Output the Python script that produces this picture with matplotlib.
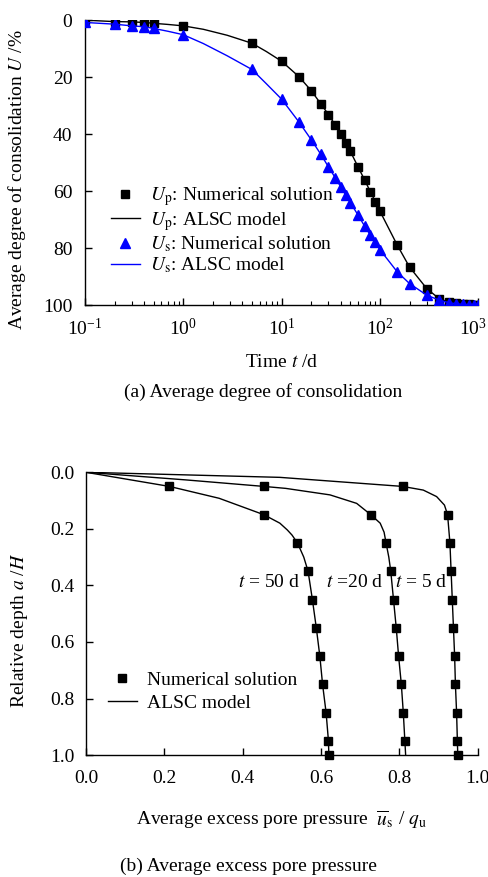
import numpy as np
import matplotlib
matplotlib.use("Agg")
import matplotlib.pyplot as plt
import matplotlib.transforms as mtransforms
from matplotlib.ticker import LogLocator, FixedLocator, NullFormatter, FuncFormatter

plt.rcParams["font.family"] = ["Liberation Serif", "DejaVu Serif"]
plt.rcParams["mathtext.fontset"] = "stix"
plt.rcParams["font.size"] = 14

# (a) average degree of consolidation
time_d = [0.1, 0.2, 0.3, 0.4, 0.5, 1, 5, 10, 15, 20, 25, 30, 35, 40, 45, 50,
          60, 70, 80, 90, 100, 150, 200, 300, 400, 500, 600, 700, 800, 900, 1000]
up_num = [0.0, 0.5, 0.6, 0.8, 1.1, 2.0, 8.1, 14.4, 19.8, 24.7, 29.3, 33.1, 36.7,
          39.9, 43.0, 46.0, 51.5, 56.1, 60.2, 63.7, 67.0, 78.9, 86.6, 94.2, 97.7,
          98.9, 99.4, 99.6, 99.7, 99.8, 99.9]
us_num = [0.8, 1.4, 2.0, 2.3, 2.9, 5.1, 17.3, 27.7, 35.7, 41.9, 47.0, 51.5, 55.2,
          58.5, 61.4, 64.0, 68.4, 72.3, 75.4, 78.0, 80.5, 88.3, 92.4, 96.5, 98.2,
          99.1, 99.5, 99.7, 99.8, 99.9, 99.9]

# ALSC model curves (denser where the curves bend)
time_model = [0.1, 0.2, 0.3, 0.4, 0.5, 0.7, 1, 1.6, 2.8, 5, 7, 10, 15, 20, 25, 30,
              35, 40, 45, 50, 60, 70, 80, 90, 100, 150, 200, 300, 400, 500, 600,
              700, 800, 900, 1000]
up_model = [0.0, 0.5, 0.6, 0.8, 1.1, 1.5, 2.0, 3.2, 5.3, 8.1, 11.0, 14.4, 19.8,
            24.7, 29.3, 33.1, 36.7, 39.9, 43.0, 46.0, 51.5, 56.1, 60.2, 63.7, 67.0,
            78.9, 86.6, 94.2, 97.7, 98.9, 99.4, 99.6, 99.7, 99.8, 99.9]
us_model = [0.8, 1.4, 2.0, 2.3, 2.9, 3.9, 5.1, 8.2, 12.5, 17.3, 22.3, 27.7, 35.7,
            41.9, 47.0, 51.5, 55.2, 58.5, 61.4, 64.0, 68.4, 72.3, 75.4, 78.0, 80.5,
            88.3, 92.4, 96.5, 98.2, 99.1, 99.5, 99.7, 99.8, 99.9, 99.9]
time_ticks = [0.1, 1, 10, 100, 1000]

# (b) average excess pore pressure profiles
depth_num = [0.05, 0.15, 0.25, 0.35, 0.45, 0.55, 0.65, 0.75, 0.85, 0.95, 1.0]
p50_num = [0.213, 0.454, 0.540, 0.567, 0.578, 0.588, 0.597, 0.604, 0.613, 0.619, 0.620]
p20_num = [0.454, 0.727, 0.766, 0.778, 0.785, 0.792, 0.798, 0.805, 0.810, 0.814]
p5_num = [0.808, 0.923, 0.929, 0.932, 0.935, 0.938, 0.941, 0.943, 0.946, 0.948, 0.949]

depth_50_model = [0.0, 0.024, 0.05, 0.092, 0.15, 0.18, 0.204, 0.222, 0.25, 0.3,
                  0.35, 0.45, 0.55, 0.65, 0.75, 0.85, 0.95, 1.0]
p50_model = [0.0, 0.102, 0.213, 0.34, 0.454, 0.495, 0.514, 0.526, 0.540, 0.556,
             0.567, 0.578, 0.588, 0.597, 0.604, 0.613, 0.619, 0.620]
depth_20_model = [0.0, 0.027, 0.05, 0.057, 0.08, 0.11, 0.15, 0.18, 0.212, 0.25,
                  0.3, 0.35, 0.45, 0.55, 0.65, 0.75, 0.85, 0.95, 1.0]
p20_model = [0.0, 0.255, 0.454, 0.51, 0.623, 0.691, 0.727, 0.751, 0.761, 0.766,
             0.773, 0.778, 0.785, 0.792, 0.798, 0.805, 0.810, 0.814, 0.816]
depth_5_model = [0.0, 0.018, 0.05, 0.063, 0.086, 0.116, 0.15, 0.25, 0.35, 0.45,
                 0.55, 0.65, 0.75, 0.85, 0.95, 1.0]
p5_model = [0.0, 0.495, 0.808, 0.861, 0.895, 0.915, 0.923, 0.929, 0.932, 0.935,
            0.938, 0.941, 0.943, 0.946, 0.948, 0.949]
depth_ticks = [0.0, 0.2, 0.4, 0.6, 0.8, 1.0]

curve_labels = [r"$t$ = 50 d", r"$t$ =20 d", r"$t$ = 5 d"]
curve_label_x = [0.467, 0.685, 0.856]
curve_label_y = 0.39


def style_axes(ax, xpad, ypad):
    for side in ["top", "right"]:
        ax.spines[side].set_visible(False)
    for side in ["left", "bottom"]:
        ax.spines[side].set_linewidth(1.0)
    ax.tick_params(which="major", direction="in", length=5, width=1.0, labelsize=14)
    ax.tick_params(which="minor", direction="in", length=3, width=0.8)
    ax.tick_params(axis="x", which="major", pad=xpad)
    ax.tick_params(axis="y", which="major", pad=ypad)


fig = plt.figure(figsize=(4.88, 8.77), dpi=100)

# ---- (a) ----
ax1 = fig.add_axes([0.174, 0.652, 0.806, 0.325])
ax1.plot(time_d, up_num, "s", color="black", ms=6, label=r"$U_{\mathrm{p}}$: Numerical solution")
ax1.plot(time_model, up_model, "-", color="black", lw=1.0, label=r"$U_{\mathrm{p}}$: ALSC model")
ax1.plot(time_d, us_num, "^", color="blue", ms=6.5, label=r"$U_{\mathrm{s}}$: Numerical solution")
ax1.plot(time_model, us_model, "-", color="blue", lw=1.0, label=r"$U_{\mathrm{s}}$: ALSC model")
ax1.set_xscale("log")
ax1.set_xlim(0.1, 1000)
ax1.set_ylim(100, 0)
ax1.set_yticks([0, 20, 40, 60, 80, 100])
ax1.xaxis.set_major_locator(FixedLocator(time_ticks))
ax1.xaxis.set_major_formatter(
    FuncFormatter(lambda v, p: r"$\mathregular{10^{%d}}$" % round(np.log10(v))))
ax1.xaxis.set_minor_locator(LogLocator(base=10, subs=np.arange(2, 10), numticks=20))
ax1.xaxis.set_minor_formatter(NullFormatter())
style_axes(ax1, xpad=9, ypad=9)
ax1.set_xlabel(r"Time $t$ /d", labelpad=11)
ax1.set_ylabel(r"Average degree of consolidation $U$ /%")
ax1.yaxis.set_label_coords(-0.145, 0.44)
for sp in ax1.spines.values():
    sp.set_zorder(0)
# nudge the last time label left so it stays inside the figure
last_tick = ax1.xaxis.get_major_ticks(len(time_ticks))[-1]
last_tick.label1.set_transform(
    last_tick.label1.get_transform()
    + mtransforms.ScaledTranslation(-5 / 100, 0, fig.dpi_scale_trans))
ax1.legend(loc="upper left", bbox_to_anchor=(0.066, 0.42), frameon=False,
           borderpad=0, borderaxespad=0, handlelength=1.5, handletextpad=0.5,
           labelspacing=0.08, fontsize=14)
fig.text(0.54, 1 - 392 / 877, "(a) Average degree of consolidation",
         ha="center", va="center", fontsize=14)

# ---- (b) ----
ax2 = fig.add_axes([0.176, 0.139, 0.803, 0.3225])
ax2.plot(p50_model, depth_50_model, "-", color="black", lw=1.0, label="ALSC model")
ax2.plot(p20_model, depth_20_model, "-", color="black", lw=1.0)
ax2.plot(p5_model, depth_5_model, "-", color="black", lw=1.0)
ax2.plot(p50_num, depth_num, "s", color="black", ms=6, clip_on=False, label="Numerical solution")
ax2.plot(p20_num, depth_num[:len(p20_num)], "s", color="black", ms=6, clip_on=False)
ax2.plot(p5_num, depth_num, "s", color="black", ms=6, clip_on=False)
ax2.set_xlim(0, 1.0)
ax2.set_ylim(1.0, 0)
ax2.xaxis.set_major_locator(FixedLocator(depth_ticks))
ax2.yaxis.set_major_locator(FixedLocator(depth_ticks))
ax2.xaxis.set_major_formatter(FuncFormatter(lambda v, p: f"{v:.1f}"))
ax2.yaxis.set_major_formatter(FuncFormatter(lambda v, p: f"{v:.1f}"))
style_axes(ax2, xpad=11, ypad=8)
for label, xv in zip(curve_labels, curve_label_x):
    ax2.text(xv, curve_label_y, label, ha="center", va="center", fontsize=14)
handles, labels = ax2.get_legend_handles_labels()
ax2.legend([handles[1], handles[0]], [labels[1], labels[0]], loc="upper left",
           bbox_to_anchor=(0.056, 0.295), frameon=False, borderpad=0, borderaxespad=0,
           handlelength=1.5, handletextpad=0.5, labelspacing=0.25, fontsize=14)
ax2.set_xlabel(r"Average excess pore pressure  $\overline{u}_{\mathrm{s}}$ / $q_{\mathrm{u}}$",
               labelpad=15)
ax2.set_ylabel(r"Relative depth $a$ /$H$")
ax2.yaxis.set_label_coords(-0.143, 0.44)
fig.text(0.51, 1 - 866 / 877, "(b) Average excess pore pressure",
         ha="center", va="center", fontsize=14)

fig.savefig("out.png", dpi=100)
